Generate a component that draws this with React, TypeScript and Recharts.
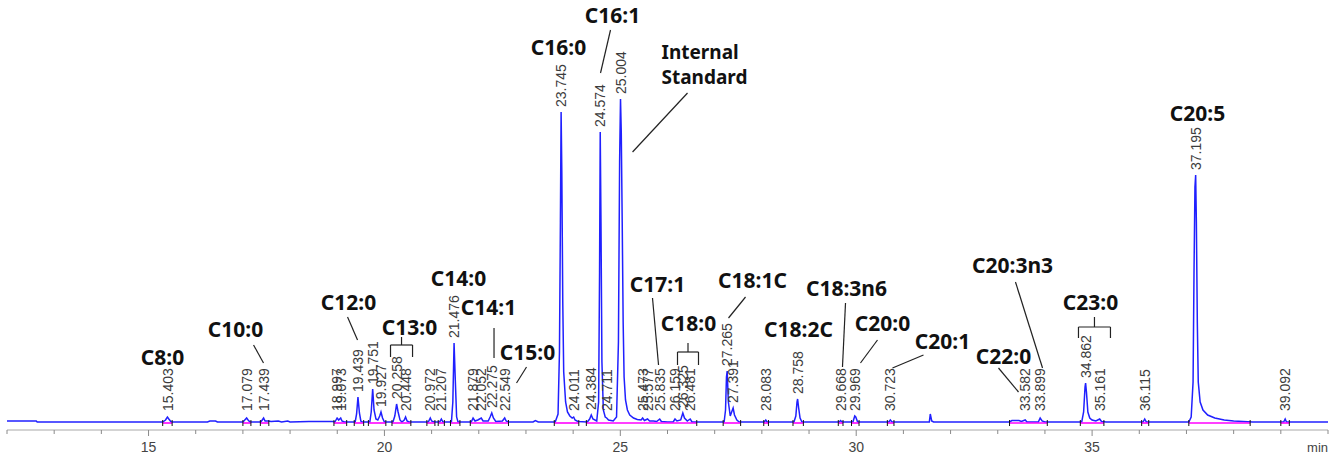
import React from "react";
import { ComposedChart, Line, Scatter, XAxis, YAxis, ReferenceLine } from "recharts";

// Chromatogram trace: [retention time (min), signal]
const trace: Array<[number, number]> = [
  [12.0, 1], [12.62, 1], [12.64, 0], [15.3, 0], [15.36, 2], [15.4, 5], [15.43, 3], [15.48, 0],
  [16.25, 0], [16.3, 1], [16.42, 1], [16.46, 0], [17.0, 0], [17.04, 2], [17.079, 4], [17.11, 2], [17.15, 0],
  [17.38, 0], [17.41, 2], [17.439, 4], [17.47, 1], [17.53, 1], [17.6, 0.5], [17.75, 1], [17.82, 0], [17.95, 1], [18.0, 0],
  [18.4, 0.5], [18.9, 0.5], [18.95, 0], [18.997, 4], [19.03, 2], [19.073, 4], [19.1, 1], [19.15, 0],
  [19.38, 0], [19.41, 8], [19.439, 25], [19.47, 9], [19.5, 1], [19.53, 0],
  [19.69, 0], [19.72, 10], [19.751, 33], [19.78, 12], [19.82, 3], [19.86, 2], [19.9, 6], [19.927, 10], [19.96, 4], [20.0, 0],
  [20.18, 0], [20.22, 6], [20.258, 18], [20.29, 10], [20.33, 2], [20.37, 0], [20.42, 2], [20.448, 5], [20.48, 1], [20.52, 0],
  [20.93, 0], [20.972, 4], [21.0, 1], [21.05, 0], [21.17, 0], [21.207, 3], [21.24, 0],
  [21.42, 0], [21.45, 20], [21.476, 79], [21.5, 45], [21.53, 5], [21.56, 0],
  [21.84, 0], [21.879, 4], [21.92, 1], [21.98, 2], [22.052, 4], [22.09, 1], [22.2, 1], [22.24, 5], [22.275, 9], [22.31, 4],
  [22.36, 0.5], [22.5, 1], [22.549, 4], [22.58, 1], [22.63, 0],
  [23.15, 0], [23.2, 1.5], [23.26, 0],
  [23.62, 0], [23.68, 8], [23.71, 70], [23.73, 200], [23.745, 310], [23.76, 250], [23.78, 120], [23.8, 50], [23.84, 20],
  [23.88, 10], [23.93, 6], [23.98, 4], [24.011, 5], [24.04, 2], [24.1, 0.5],
  [24.3, 0], [24.35, 3], [24.384, 7], [24.42, 3], [24.5, 1], [24.54, 20], [24.56, 150], [24.574, 290], [24.59, 200],
  [24.61, 60], [24.64, 12], [24.68, 5], [24.711, 4], [24.75, 2], [24.85, 1], [24.92, 5], [24.96, 80], [24.985, 260],
  [25.004, 323], [25.02, 290], [25.04, 200], [25.06, 100], [25.08, 45], [25.11, 22], [25.15, 12], [25.2, 7], [25.28, 4],
  [25.36, 2.5], [25.44, 2], [25.473, 4], [25.51, 1.5], [25.577, 3], [25.62, 1], [25.7, 1], [25.77, 0.5], [25.835, 3],
  [25.87, 0.5], [26.0, 0],
  [26.12, 0], [26.159, 3], [26.2, 1], [26.28, 2], [26.325, 9], [26.36, 4], [26.42, 1], [26.481, 3], [26.52, 0],
  [27.2, 0], [27.23, 12], [27.25, 45], [27.265, 51], [27.29, 20], [27.33, 6], [27.36, 10], [27.391, 14], [27.42, 7],
  [27.47, 2], [27.52, 0],
  [28.05, 0], [28.083, 2], [28.11, 0],
  [28.68, 0], [28.72, 6], [28.745, 20], [28.758, 23], [28.78, 14], [28.81, 4], [28.85, 0],
  [29.64, 0], [29.668, 1.5], [29.7, 0], [29.93, 0], [29.969, 6], [29.99, 5], [30.03, 0],
  [30.69, 0], [30.723, 2], [30.76, 0],
  [31.55, 0], [31.57, 8], [31.6, 1], [31.64, 0],
  [33.25, 0], [33.3, 1.5], [33.45, 1.5], [33.5, 0.5], [33.582, 2], [33.62, 0], [33.86, 0], [33.899, 4], [33.94, 1], [34.0, 0],
  [34.78, 0], [34.82, 10], [34.85, 35], [34.862, 39], [34.88, 30], [34.91, 10], [34.95, 4], [35.0, 2], [35.08, 1],
  [35.161, 3], [35.2, 0.5], [35.3, 0],
  [36.08, 0], [36.115, 3], [36.15, 0],
  [37.05, 0], [37.1, 5], [37.14, 40], [37.16, 150], [37.18, 235], [37.195, 247], [37.21, 200], [37.23, 100], [37.25, 40],
  [37.29, 20], [37.35, 12], [37.45, 7], [37.6, 4], [37.8, 2], [38.0, 1], [38.2, 0.5], [38.4, 0],
  [39.06, 0], [39.092, 3], [39.12, 0], [40.0, 0],
];

// Retention-time labels
const peakTimes = [
  "15.403", "17.079", "17.439", "18.997", "19.073", "19.439", "19.751", "19.927", "20.258", "20.448", "20.972",
  "21.207", "21.476", "21.879", "22.052", "22.275", "22.549", "23.745", "24.011", "24.384", "24.574", "24.711",
  "25.004", "25.473", "25.577", "25.835", "26.159", "26.325", "26.481", "27.265", "27.391", "28.083", "28.758",
  "29.668", "29.969", "30.723", "33.582", "33.899", "34.862", "35.161", "36.115", "37.195", "39.092",
];
const peakHeights = [
  5, 4, 4, 4, 4, 25, 33, 10, 18, 5, 4,
  3, 79, 4, 4, 9, 4, 310, 5, 7, 290, 4,
  323, 4, 3, 3, 3, 9, 3, 51, 14, 2, 23,
  2, 6, 2, 2, 4, 39, 3, 3, 247, 3,
];

// Compound annotations (position in minutes / signal units)
const compoundNames = [
  "C8:0", "C10:0", "C12:0", "C13:0", "C14:0", "C14:1", "C15:0", "C16:0", "C16:1", "C17:1", "C18:0", "C18:1C",
  "C18:2C", "C18:3n6", "C20:0", "C20:1", "C22:0", "C20:3n3", "C23:0", "C20:5",
];
const compoundT = [
  15.297, 16.844, 19.239, 20.532, 21.571, 22.206, 23.033, 23.69, 24.835, 25.788, 26.446, 27.802,
  28.777, 29.794, 30.557, 31.829, 33.122, 33.313, 34.966, 37.234,
];
const compoundV = [65, 93, 120, 95, 144, 115, 70, 375, 407, 138, 99, 142, 93, 134, 99, 81, 66, 157, 120, 309];

const standardLines = ["Internal", "Standard"];
const standardT = 25.873;
const standardV = [370, 345];

// Leader lines: [t1, v1, t2, v2]
const leaders: Array<[number, number, number, number]> = [
  [17.226, 77, 17.437, 59], [19.218, 105, 19.43, 82], [22.323, 94, 22.323, 64], [23.012, 55, 22.8, 39],
  [24.792, 392, 24.58, 349], [26.424, 329, 25.259, 270], [25.682, 124, 25.81, 57], [27.654, 125, 27.293, 104],
  [29.773, 119, 29.709, 55], [30.451, 82, 30.09, 59], [31.426, 67, 30.769, 54], [33.016, 54, 33.44, 30],
  [33.376, 140, 33.949, 54],
];

// Braces: [tStart, tEnd, vTop, vMid, vBottom]
const braces: Array<[number, number, number, number, number]> = [
  [20.129, 20.596, 85, 77, 65], [26.212, 26.657, 79, 70, 57], [34.711, 35.389, 105, 95, 84],
];

// Integration baselines
const integrations: Array<[number, number]> = [
  [15.3, 15.5], [17.0, 17.17], [17.37, 17.55], [18.93, 19.2], [19.36, 19.56], [19.66, 20.03], [20.16, 20.56],
  [20.9, 21.07], [21.14, 21.27], [21.4, 21.6], [21.82, 22.63], [23.6, 24.12], [24.28, 26.62], [27.18, 27.55],
  [28.04, 28.14], [28.66, 28.88], [29.62, 29.72], [29.9, 30.06], [30.66, 30.8], [33.25, 34.05], [34.75, 35.25],
  [36.05, 36.2], [37.05, 38.35], [39.0, 39.18],
];

const axisTicks = [12, 13, 14, 15, 16, 17, 18, 19, 20, 21, 22, 23, 24, 25, 26, 27, 28, 29, 30, 31, 32, 33, 34, 35, 36, 37, 38, 39, 40];
const axisLabels = [15, 20, 25, 30, 35];

const chartData = trace.map(([t, v]) => ({ t, v }));
const peakData = peakTimes.map((s, i) => ({ t: parseFloat(s), v: Math.max(peakHeights[i], 6) + 5, label: s }));
const compoundData = compoundNames.map((n, i) => ({ t: compoundT[i], v: compoundV[i], label: n }));
const standardData = standardLines.map((n, i) => ({ t: standardT, v: standardV[i], label: n }));

const RtLabel = (props: any) => {
  const { cx, cy } = props;
  const p = props.payload || props;
  if (cx == null || cy == null) return <g />;
  const x = cx + 5;
  return (
    <text x={x} y={cy} transform={`rotate(-90 ${x} ${cy})`} textAnchor="start"
      fontFamily="'Liberation Sans', Arial, sans-serif" fontSize={14} fill="#3c3c3c">
      {p.label}
    </text>
  );
};

const CompoundLabel = (props: any) => {
  const { cx, cy } = props;
  const p = props.payload || props;
  if (cx == null || cy == null) return <g />;
  return (
    <text x={cx} y={cy} dy="0.36em" textAnchor="middle" fontFamily="'Noto Sans', sans-serif"
      fontWeight={700} fontSize={21} fill="#111">
      {p.label}
    </text>
  );
};

const StandardLabel = (props: any) => {
  const { cx, cy } = props;
  const p = props.payload || props;
  if (cx == null || cy == null) return <g />;
  return (
    <text x={cx} y={cy} dy="0.36em" textAnchor="start" fontFamily="'Noto Sans', sans-serif"
      fontWeight={700} fontSize={19} fill="#111">
      {p.label}
    </text>
  );
};

const AxisTick = (props: any) => {
  const { x, y, payload } = props;
  const val = payload.value;
  const major = axisLabels.includes(val);
  return (
    <g>
      <line x1={x} y1={y} x2={x} y2={y + (major ? 6 : 4)} stroke="#8a8a8a" strokeWidth={1} />
      {major && (
        <text x={x} y={y + 22} textAnchor="middle" fontFamily="'Liberation Sans', Arial, sans-serif"
          fontSize={14} fill="#444">
          {val}
        </text>
      )}
      {val === 40 && (
        <text x={x} y={y + 22} textAnchor="end" fontFamily="'Liberation Sans', Arial, sans-serif"
          fontSize={13} fill="#444">
          min
        </text>
      )}
    </g>
  );
};

export default function App() {
  return (
    <div style={{ position: "absolute", left: 0, top: 0, width: 1340, height: 458, background: "#fff" }}>
      <ComposedChart width={1340} height={458} data={chartData} margin={{ top: 0, right: 12, bottom: 0, left: 7 }}>
        <XAxis dataKey="t" type="number" domain={[12, 40]} ticks={axisTicks} interval={0} height={28}
          tickSize={0} tickMargin={0} tickLine={false} axisLine={{ stroke: "#a8a8a8" }} tick={<AxisTick />} />
        <YAxis dataKey="v" type="number" domain={[-8, 422]} hide />
        <Line dataKey="v" type="linear" stroke="#2020ff" strokeWidth={1.5} dot={false} isAnimationActive={false} />
        {integrations.map(([a, b], i) => (
          <ReferenceLine key={`int${i}`} segment={[{ x: a, y: -1 }, { x: b, y: -1 }]} stroke="#ff00ff" strokeWidth={1.6} />
        ))}
        {integrations.map(([a, b], i) => (
          <ReferenceLine key={`ma${i}`} segment={[{ x: a, y: 2 }, { x: a, y: -4 }]} stroke="#111" strokeWidth={1} />
        ))}
        {integrations.map(([a, b], i) => (
          <ReferenceLine key={`mb${i}`} segment={[{ x: b, y: 2 }, { x: b, y: -4 }]} stroke="#111" strokeWidth={1} />
        ))}
        {leaders.map(([t1, v1, t2, v2], i) => (
          <ReferenceLine key={`ld${i}`} segment={[{ x: t1, y: v1 }, { x: t2, y: v2 }]} stroke="#222" strokeWidth={1.2} />
        ))}
        {braces.map(([a, b, top, mid, bot], i) => (
          <ReferenceLine key={`bh${i}`} segment={[{ x: a, y: mid }, { x: b, y: mid }]} stroke="#222" strokeWidth={1.2} />
        ))}
        {braces.map(([a, b, top, mid, bot], i) => (
          <ReferenceLine key={`bs${i}`} segment={[{ x: (a + b) / 2, y: mid }, { x: (a + b) / 2, y: top }]} stroke="#222" strokeWidth={1.2} />
        ))}
        {braces.map(([a, b, top, mid, bot], i) => (
          <ReferenceLine key={`bl${i}`} segment={[{ x: a, y: mid }, { x: a, y: bot }]} stroke="#222" strokeWidth={1.2} />
        ))}
        {braces.map(([a, b, top, mid, bot], i) => (
          <ReferenceLine key={`br${i}`} segment={[{ x: b, y: mid }, { x: b, y: bot }]} stroke="#222" strokeWidth={1.2} />
        ))}
        <Scatter data={peakData} shape={RtLabel} isAnimationActive={false} />
        <Scatter data={compoundData} shape={CompoundLabel} isAnimationActive={false} />
        <Scatter data={standardData} shape={StandardLabel} isAnimationActive={false} />
      </ComposedChart>
    </div>
  );
}
